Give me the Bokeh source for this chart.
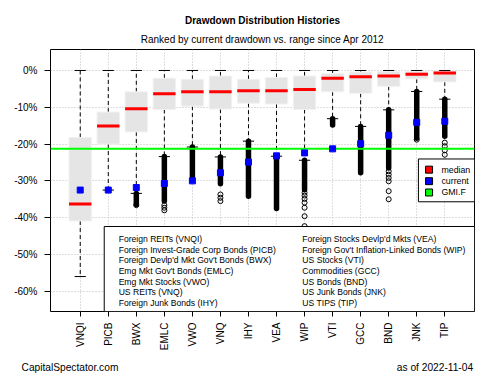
import math
from bokeh.plotting import figure
from bokeh.models import Range1d, FixedTicker, Title, LinearAxis
from bokeh.core.properties import value
from bokeh.embed import file_html
from bokeh.resources import INLINE

FONT = "Liberation Sans"

# ---- data (drawdown, %) ----
tickers = ["VNQI", "PICB", "BWX", "EMLC", "VWO", "VNQ", "IHY",
           "VEA", "WIP", "VTI", "GCC", "BND", "JNK", "TIP"]
upper_whisker = [0.0, 0.0, 0.0, 0.0, 0.0, 0.0, 0.0, 0.0, 0.0, 0.0, 0.0, 0.0, 0.0, 0.0]
q3 = [-18.2, -11.3, -5.8, -2.1, -2.4, -1.5, -2.4, -1.9, -1.5, -0.8, -0.4, -0.2, -0.2, -0.2]
median = [-36.3, -15.1, -10.4, -6.3, -5.8, -5.8, -5.5, -5.5, -5.2, -2.1, -1.7, -1.5, -1.0, -0.7]
q1 = [-40.9, -20.0, -16.7, -10.6, -9.7, -10.5, -8.9, -9.1, -10.6, -5.8, -6.2, -4.3, -2.3, -3.1]
lower_whisker = [-56.0, -32.5, -33.4, -23.4, -20.8, -23.5, -19.2, -23.3, -24.4, -13.1, -15.2, -10.7, -5.7, -7.8]
# bottom of the dense run of outliers just below each lower whisker (nan = none)
dense_outlier_bottom = [float("nan"), float("nan"), -36.4, -35.5, -29.0, -30.8, -34.2,
                        -37.5, -32.4, -14.8, -27.8, -26.5, -18.4, -17.9]
current = [-32.5, -32.5, -31.8, -30.7, -30.0, -27.8, -24.9, -23.2, -22.4, -21.3, -19.9, -17.6, -14.1, -13.8]
# isolated outliers: ticker and value
sparse_out_ticker = ["BWX", "EMLC", "EMLC", "EMLC", "VNQ", "VNQ", "VNQ",
                     "WIP", "WIP", "WIP", "WIP", "WIP", "WIP", "WIP",
                     "BND", "BND", "BND", "BND", "BND", "BND",
                     "JNK", "TIP", "TIP", "TIP", "TIP"]
sparse_out_value = [-36.6, -36.6, -37.3, -38.0, -33.7, -34.6, -35.5,
                    -33.2, -34.0, -34.9, -35.9, -37.3, -39.6, -42.3,
                    -27.4, -28.3, -29.2, -30.1, -32.8, -35.0,
                    -18.8, -19.6, -20.6, -21.7, -22.9]
gmi_f = -21.3
y_ticks = [-60, -50, -40, -30, -20, -10, 0]
legend_names = ["Foreign REITs (VNQI)", "Foreign Invest-Grade Corp Bonds (PICB)",
                "Foreign Devlp'd Mkt Gov't Bonds (BWX)", "Emg Mkt Gov't Bonds (EMLC)",
                "Emg Mkt Stocks (VWO)", "US REITs (VNQ)", "Foreign Junk Bonds (IHY)",
                "Foreign Stocks Devlp'd Mkts (VEA)", "Foreign Gov't Inflation-Linked Bonds (WIP)",
                "US Stocks (VTI)", "Commodities (GCC)", "US Bonds (BND)",
                "US Junk Bonds (JNK)", "US TIPS (TIP)"]
key_labels = ["median", "current", "GMI.F"]
key_colors = ["red", "blue", "#00ff00"]
title = "Drawdown Distribution Histories"
subtitle = "Ranked by current drawdown vs. range since Apr 2012"
footer_left = "CapitalSpectator.com"
footer_right = "as of  2022-11-04"

pos = [i + 1 for i in range(len(tickers))]
x_lo, x_hi = -0.06, len(tickers) + 1.06

p = figure(width=500, height=375, x_range=Range1d(x_lo, x_hi), y_range=Range1d(-65.5, 5.7),
           output_backend="svg", toolbar_location=None, title=None,
           min_border_left=50, min_border_right=26, min_border_top=49, min_border_bottom=62)
p.background_fill_color = "white"
p.border_fill_color = "white"
p.outline_line_color = "black"
p.outline_line_width = 1

# axes
xax = p.below[0]
yax = p.left[0]
xax.ticker = FixedTicker(ticks=pos)
xax.major_label_overrides = {x: t for x, t in zip(pos, tickers)}
xax.major_label_orientation = math.pi / 2
yax.ticker = FixedTicker(ticks=y_ticks)
yax.major_label_overrides = {v: f"{v}%" for v in y_ticks}
for ax in (xax, yax):
    ax.axis_line_color = None
    ax.minor_tick_line_color = None
    ax.major_tick_line_color = "black"
    ax.major_tick_in = 0
    ax.major_label_text_font = FONT
    ax.major_label_text_font_size = "10px"
    ax.major_label_text_color = "black"
xax.major_tick_out = 5
xax.major_label_standoff = 6
yax.major_tick_out = 6
yax.major_label_standoff = 7

# footer texts as an extra, tick-less axis under the category axis
footer_pos = [0.634, 13.7]
fax = LinearAxis(ticker=FixedTicker(ticks=footer_pos),
                 major_label_overrides={footer_pos[0]: footer_left, footer_pos[1]: footer_right})
fax.axis_line_color = None
fax.major_tick_line_color = None
fax.minor_tick_line_color = None
fax.major_tick_in = 0
fax.major_tick_out = 0
fax.major_label_standoff = 8
fax.major_label_text_font = FONT
fax.major_label_text_font_size = "10.2px"
fax.major_label_text_color = "black"
p.add_layout(fax, "below")

# grid
p.xgrid.ticker = FixedTicker(ticks=pos)
p.ygrid.ticker = FixedTicker(ticks=y_ticks)
for g in (p.xgrid, p.ygrid):
    g.grid_line_color = "#bdbdbd"
    g.grid_line_dash = "1 2"
    g.grid_line_width = 1

# whiskers (dashed)
p.segment(x0=pos, x1=pos, y0=q3, y1=upper_whisker, line_color="black", line_width=1, line_dash="4 3")
p.segment(x0=pos, x1=pos, y0=q1, y1=lower_whisker, line_color="black", line_width=1, line_dash="4 3")
# boxes
p.vbar(x=pos, width=0.8, top=q3, bottom=q1, fill_color="#e5e5e5", line_color="#f2f2f2", line_width=1)
# medians
p.segment(x0=[x - 0.4 for x in pos], x1=[x + 0.4 for x in pos], y0=median, y1=median,
          line_color="red", line_width=3)
# caps
p.segment(x0=[x - 0.2 for x in pos], x1=[x + 0.2 for x in pos], y0=upper_whisker, y1=upper_whisker,
          line_color="black", line_width=1)
p.segment(x0=[x - 0.2 for x in pos], x1=[x + 0.2 for x in pos], y0=lower_whisker, y1=lower_whisker,
          line_color="black", line_width=1)
# dense outliers
dense_x = [x for x, b in zip(pos, dense_outlier_bottom) if not math.isnan(b)]
dense_top = [w for w, b in zip(lower_whisker, dense_outlier_bottom) if not math.isnan(b)]
dense_bot = [b for b in dense_outlier_bottom if not math.isnan(b)]
p.segment(x0=dense_x, x1=dense_x, y0=dense_top, y1=dense_bot, line_color="black",
          line_width=5.5, line_cap="round")
# sparse outliers
p.scatter(x=[pos[tickers.index(t)] for t in sparse_out_ticker], y=sparse_out_value,
          marker="circle", size=5, fill_alpha=0, line_color="black", line_width=1)

# GMI.F line
p.segment(x0=[x_lo], x1=[x_hi], y0=[gmi_f], y1=[gmi_f], line_color="#00ff00", line_width=2)

# current
p.scatter(x=pos, y=current, marker="square", size=6, fill_color="blue", line_color="blue")

# text legend box
p.quad(left=[1.856], right=[x_hi], top=[-42.4], bottom=[-65.5], fill_color="white",
       line_color="black", line_width=1)
n_half = 7
row_y = [-45.86 - 2.88 * i for i in range(n_half)]
p.text(x=[2.37] * n_half + [8.92] * n_half, y=row_y + row_y, text=legend_names,
       text_font=value(FONT), text_font_size="8.6px", text_baseline="middle",
       text_align="left", text_color="black")

# key legend
p.quad(left=[13.06], right=[x_hi], top=[-24.05], bottom=[-35.68], fill_color="white",
       line_color="black", line_width=1)
key_y = [-26.95, -30.08, -33.16]
p.scatter(x=[13.44] * 3, y=key_y, marker="square", size=7, fill_color=key_colors,
          line_color="black", line_width=1)
p.text(x=[13.88] * 3, y=key_y, text=key_labels, text_font=value(FONT), text_font_size="8.8px",
       text_baseline="middle", text_align="left", text_color="black")

# titles
p.add_layout(Title(text=subtitle, align="center", text_font=FONT, text_font_size="10px",
                   text_font_style="normal", text_color="black", standoff=10), "above")
p.add_layout(Title(text=title, align="center", text_font=FONT, text_font_size="10px",
                   text_font_style="bold", text_color="black", standoff=1), "above")

open("out.html", "w").write(file_html(p, INLINE))
